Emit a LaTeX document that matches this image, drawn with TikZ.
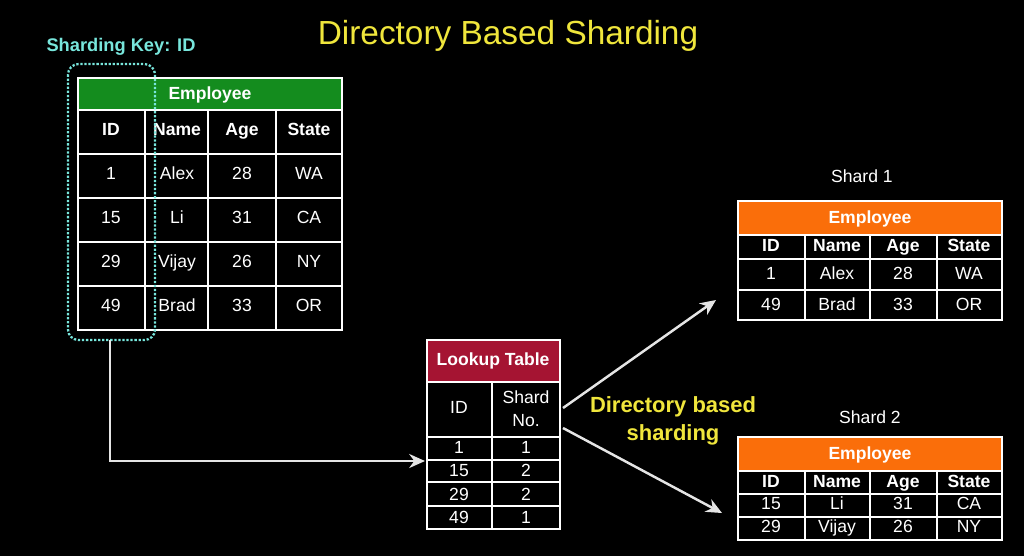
\documentclass[tikz,border=0pt]{standalone}
\usepackage{fontspec}
\setmainfont{Liberation Sans}
\usetikzlibrary{arrows.meta}
\definecolor{titleyellow}{RGB}{240,230,60}
\definecolor{keycyan}{RGB}{120,230,220}
\definecolor{empgreen}{RGB}{20,140,30}
\definecolor{lookred}{RGB}{165,20,50}
\definecolor{shardorange}{RGB}{250,110,10}
\tikzset{
  cell/.style={text=white, font=\fontsize{10}{11}\selectfont, inner sep=0pt, text height=7.2pt, text depth=1.8pt},
  headcell/.style={cell, font=\fontsize{10}{11}\selectfont\bfseries},
  gridline/.style={draw=white, line width=0.8pt},
  flow/.style={draw=white!90!black, line width=1.4pt, -{Stealth[length=9pt,width=8pt]}}
}
\begin{document}
\begin{tikzpicture}[x=0.02cm, y=-0.02cm]
\fill[black] (0,0) rectangle (1024,556);

\node[text=titleyellow, font=\fontsize{19}{22}\selectfont] (title) at (508,36) {Directory Based Sharding};
\node[text=keycyan, font=\fontsize{10.4}{12}\selectfont\bfseries] (key) at (121,47) {Sharding Key: ID};

% employee table
\fill[empgreen] (78,78) rectangle (342,110);
\node[headcell] (emp) at (210,95) {Employee};
\draw[gridline] (78,78) rectangle (342,330);
\foreach \y in {110,154,198,242,286} \draw[gridline] (78,\y) -- (342,\y);
\foreach \x in {145,208,276} \draw[gridline] (\x,110) -- (\x,330);
\foreach \t/\x in {ID/111,Name/177,Age/242,State/309} \node[headcell] at (\x,131) {\t};
\foreach \a/\b/\c/\d [count=\r] in {1/Alex/28/WA,15/Li/31/CA,29/Vijay/26/NY,49/Brad/33/OR} {
  \node[cell] at (111,131+44*\r) {\a};
  \node[cell] at (177,131+44*\r) {\b};
  \node[cell] at (242,131+44*\r) {\c};
  \node[cell] at (309,131+44*\r) {\d};
}
\draw[keycyan, densely dotted, line width=1.3pt, rounded corners=6pt] (68,64) rectangle (155,340);
\coordinate (keybottom) at (110,340);

% lookup table
\fill[lookred] (427,340) rectangle (560,382);
\node[headcell] (lookup) at (493,361) {Lookup Table};
\draw[gridline, line width=0.6pt] (427,340) rectangle (560,529);
\foreach \y in {382,437,460,482,506} \draw[gridline, line width=0.6pt] (427,\y) -- (560,\y);
\draw[gridline, line width=0.6pt] (492,382) -- (492,529);
\node[cell] at (459,409) {ID};
\node[cell, align=center, text height=, text depth=] at (526,409) {Shard\\[2pt]No.};
\foreach \a/\b [count=\r] in {1/1,15/2,29/2,49/1} {
  \node[cell] at (459,425+23.5*\r) {\a};
  \node[cell] at (526,425+23.5*\r) {\b};
}
\coordinate (lookin) at (425,461);
\coordinate (lookup1) at (563,408);
\coordinate (lookup2) at (563,428);

\node[text=titleyellow, font=\fontsize{12.5}{16}\selectfont\bfseries, align=center] (dirtext) at (673,421) {Directory based\\sharding};

% shard 1
\node[cell] (shard1) at (862,178) {Shard 1};
\fill[shardorange] (738,201) rectangle (1002,235);
\node[headcell] at (870,219) {Employee};
\draw[gridline] (738,201) rectangle (1002,320);
\foreach \y in {235,259,290} \draw[gridline] (738,\y) -- (1002,\y);
\foreach \x in {805,870,937} \draw[gridline] (\x,235) -- (\x,320);
\foreach \t/\x in {ID/771,Name/837,Age/903,State/969} \node[headcell] at (\x,247) {\t};
\foreach \t/\x in {1/771,Alex/837,28/903,WA/969} \node[cell] at (\x,275) {\t};
\foreach \t/\x in {49/771,Brad/837,33/903,OR/969} \node[cell] at (\x,306) {\t};
\coordinate (shard1in) at (716,300);

% shard 2
\node[cell] (shard2) at (870,419) {Shard 2};
\fill[shardorange] (738,437) rectangle (1002,471);
\node[headcell] at (870,455) {Employee};
\draw[gridline] (738,437) rectangle (1002,540);
\foreach \y in {471,494,517} \draw[gridline] (738,\y) -- (1002,\y);
\foreach \x in {805,870,937} \draw[gridline] (\x,471) -- (\x,540);
\foreach \t/\x in {ID/771,Name/837,Age/903,State/969} \node[headcell] at (\x,483) {\t};
\foreach \t/\x in {15/771,Li/837,31/903,CA/969} \node[cell] at (\x,505) {\t};
\foreach \t/\x in {29/771,Vijay/837,26/903,NY/969} \node[cell] at (\x,528) {\t};
\coordinate (shard2in) at (722,513);

% arrows
\draw[flow] (keybottom) |- (lookin);
\draw[flow] (lookup1) -- (shard1in);
\draw[flow] (lookup2) -- (shard2in);
\end{tikzpicture}
\end{document}
